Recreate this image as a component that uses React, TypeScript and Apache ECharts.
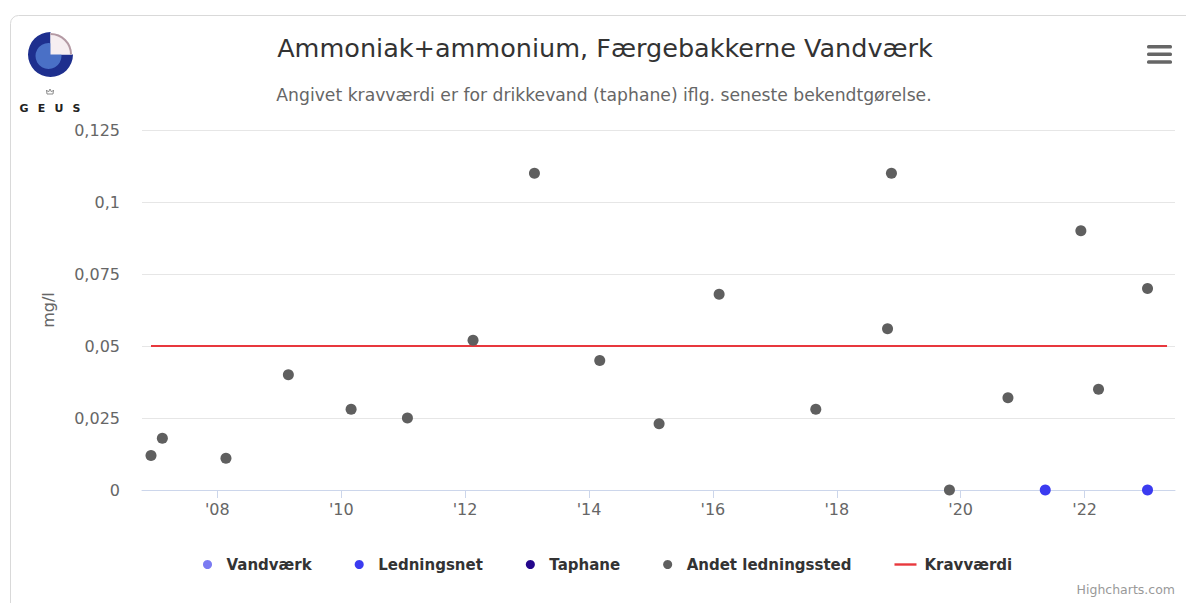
import React, { useEffect, useRef } from "react";
import * as echarts from "echarts";

// ---- Data ----
const ANDET_DATES = [
  "2006-12-06", "2007-02-11", "2008-02-21", "2009-02-23", "2010-02-28",
  "2011-01-26", "2012-02-17", "2013-02-13", "2014-03-05", "2015-02-18",
  "2016-02-07", "2017-08-30", "2018-10-27", "2018-11-19", "2019-10-27",
  "2020-10-06", "2021-12-10", "2022-03-24", "2023-01-07",
];
const ANDET_VALUES = [
  0.012, 0.018, 0.011, 0.04, 0.028,
  0.025, 0.052, 0.11, 0.045, 0.023,
  0.068, 0.028, 0.056, 0.11, 0,
  0.032, 0.09, 0.035, 0.07,
];
const LEDNINGSNET_DATES = ["2021-05-14", "2023-01-07"];
const LEDNINGSNET_VALUES = [0, 0];
const VANDVAERK_DATES: string[] = [];
const VANDVAERK_VALUES: number[] = [];
const TAPHANE_DATES: string[] = [];
const TAPHANE_VALUES: number[] = [];
const KRAV_DATES = ["2006-12-06", "2023-05-02"];
const KRAV_VALUE = 0.05;

const X_MIN = "2006-10-14";
const X_MAX = "2023-06-18";
const X_TICKS = [
  "2008-01-01", "2010-01-01", "2012-01-01", "2014-01-01",
  "2016-01-01", "2018-01-01", "2020-01-01", "2022-01-01",
];
const Y_MIN = 0;
const Y_MAX = 0.125;
const Y_STEP = 0.025;

const SERIES_NAMES = ["Vandværk", "Ledningsnet", "Taphane", "Andet ledningssted", "Kravværdi"];
const COLORS = ["#7b7bf2", "#3b3bf0", "#24078c", "#5f5f5f", "#e8383d"];

const TITLE = "Ammoniak+ammonium, Færgebakkerne Vandværk";
const SUBTITLE = "Angivet kravværdi er for drikkevand (taphane) iflg. seneste bekendtgørelse.";
const Y_NAME = "mg/l";
const CREDITS = "Highcharts.com";

const FONT = "'DejaVu Sans', Verdana, sans-serif";

function toTime(s: string): number {
  const [y, m, d] = s.split("-").map(Number);
  return Date.UTC(y, m - 1, d);
}
function pairs(dates: string[], values: number[]) {
  return dates.map((d, i) => [toTime(d), values[i]]);
}

export default function App() {
  const ref = useRef<HTMLDivElement>(null);

  useEffect(() => {
    if (!ref.current) return;
    const chart = echarts.init(ref.current, null, { renderer: "svg" });

    const scatter = (name: string, color: string, data: number[][]) => ({
      name,
      type: "scatter",
      data,
      symbol: "circle",
      symbolSize: 11,
      itemStyle: { color, opacity: 1 },
      emphasis: { disabled: true },
      silent: true,
      z: 3,
    });

    const tickValues = X_TICKS.map(toTime);

    const option: any = {
      animation: false,
      backgroundColor: "#ffffff",
      textStyle: { fontFamily: FONT },
      grid: { left: 142, right: 11, top: 130, bottom: 113, containLabel: false },
      xAxis: {
        type: "value",
        min: toTime(X_MIN),
        max: toTime(X_MAX),
        scale: true,
        axisLine: { show: true, lineStyle: { color: "#ccd6eb", width: 1 } },
        axisTick: {
          show: true,
          length: 8,
          lineStyle: { color: "#ccd6eb" },
          customValues: tickValues,
        },
        axisLabel: {
          show: true,
          customValues: tickValues,
          formatter: (v: number) => "'" + String(new Date(v).getUTCFullYear()).slice(2),
          color: "#666666",
          fontSize: 16,
          fontFamily: FONT,
          margin: 11,
          showMinLabel: true,
          showMaxLabel: true,
        },
        splitLine: { show: false },
      },
      yAxis: {
        type: "value",
        min: Y_MIN,
        max: Y_MAX,
        interval: Y_STEP,
        name: Y_NAME,
        nameLocation: "middle",
        nameGap: 86,
        nameTextStyle: { color: "#666666", fontSize: 16, fontFamily: FONT },
        axisLine: { show: false },
        axisTick: { show: false },
        axisLabel: {
          color: "#666666",
          fontSize: 16,
          fontFamily: FONT,
          margin: 22,
          formatter: (v: number) => (v === 0 ? "0" : String(+v.toFixed(3)).replace(".", ",")),
        },
        splitLine: { show: true, lineStyle: { color: "#e6e6e6", width: 1 } },
      },
      legend: {
        left: 198,
        top: 552,
        itemWidth: 22,
        itemHeight: 9,
        itemGap: 43,
        selectedMode: false,
        textStyle: {
          fontFamily: FONT,
          fontSize: 15,
          fontWeight: "bold",
          color: "#333333",
          padding: [0, 0, 0, 3],
        },
        data: [
          { name: SERIES_NAMES[0], icon: "circle" },
          { name: SERIES_NAMES[1], icon: "circle" },
          { name: SERIES_NAMES[2], icon: "circle" },
          { name: SERIES_NAMES[3], icon: "circle" },
          { name: SERIES_NAMES[4], icon: "path://M0,0L22,0L22,2.4L0,2.4Z" },
        ],
      },
      series: [
        scatter(SERIES_NAMES[0], COLORS[0], pairs(VANDVAERK_DATES, VANDVAERK_VALUES)),
        scatter(SERIES_NAMES[1], COLORS[1], pairs(LEDNINGSNET_DATES, LEDNINGSNET_VALUES)),
        scatter(SERIES_NAMES[2], COLORS[2], pairs(TAPHANE_DATES, TAPHANE_VALUES)),
        scatter(SERIES_NAMES[3], COLORS[3], pairs(ANDET_DATES, ANDET_VALUES)),
        {
          name: SERIES_NAMES[4],
          type: "line",
          data: KRAV_DATES.map((d) => [toTime(d), KRAV_VALUE]),
          symbol: "none",
          showSymbol: false,
          itemStyle: { color: COLORS[4] },
          lineStyle: { color: COLORS[4], width: 2 },
          emphasis: { disabled: true },
          silent: true,
          z: 1,
        },
      ],
      graphic: [
        {
          type: "rect",
          shape: { x: 10.5, y: 15.5, width: 1220, height: 700, r: 8 },
          style: { fill: "none", stroke: "#d9d9d9", lineWidth: 1 },
          silent: true,
          z: -10,
        },
        {
          type: "text",
          x: 605,
          y: 48,
          style: {
            text: TITLE,
            fontFamily: FONT,
            fontSize: 25.5,
            fill: "#333333",
            align: "center",
            verticalAlign: "middle",
          },
        },
        {
          type: "text",
          x: 604,
          y: 95,
          style: {
            text: SUBTITLE,
            fontFamily: FONT,
            fontSize: 17.2,
            fill: "#666666",
            align: "center",
            verticalAlign: "middle",
          },
        },
        {
          type: "text",
          x: 1175,
          y: 589,
          style: {
            text: CREDITS,
            fontFamily: FONT,
            fontSize: 12.5,
            fill: "#999999",
            align: "right",
            verticalAlign: "middle",
          },
        },
        { type: "rect", shape: { x: 1147, y: 45, width: 25, height: 3.5, r: 1.5 }, style: { fill: "#666666" } },
        { type: "rect", shape: { x: 1147, y: 52.5, width: 25, height: 3.5, r: 1.5 }, style: { fill: "#666666" } },
        { type: "rect", shape: { x: 1147, y: 60.3, width: 25, height: 3.5, r: 1.5 }, style: { fill: "#666666" } },
        {
          type: "sector",
          shape: { cx: 50.5, cy: 54.5, r: 22.5, r0: 0, startAngle: 0, endAngle: Math.PI * 1.5, clockwise: true },
          style: { fill: "#1e2f8e" },
        },
        {
          type: "circle",
          shape: { cx: 48.5, cy: 56, r: 13 },
          style: { fill: "#4a70c6" },
        },
        {
          type: "sector",
          shape: { cx: 50.5, cy: 54.5, r: 21.5, r0: 0, startAngle: -Math.PI / 2, endAngle: 0, clockwise: true },
          style: { fill: "#f6eef1" },
        },
        {
          type: "arc",
          shape: { cx: 50.5, cy: 54.5, r: 20.5, startAngle: -Math.PI / 2, endAngle: 0, clockwise: true },
          style: { stroke: "#b49aa4", lineWidth: 2, fill: "none" },
        },
        {
          type: "polyline",
          shape: { points: [[47, 94], [46.5, 90], [48.5, 92], [50, 89], [51.5, 92], [53.5, 90], [53, 94], [47, 94]] },
          style: { stroke: "#8a8a8a", lineWidth: 1, fill: "none" },
        },
        ...["G", "E", "U", "S"].map((ch, i) => ({
          type: "text",
          x: 24 + i * 17.5,
          y: 108,
          style: {
            text: ch,
            fontFamily: FONT,
            fontSize: 11,
            fontWeight: "bold",
            fill: "#222222",
            align: "center",
            verticalAlign: "middle",
          },
        })),
      ],
    };

    chart.setOption(option);
    return () => {
      chart.dispose();
    };
  }, []);

  return (
    <div
      ref={ref}
      style={{ position: "absolute", left: 0, top: 0, width: 1186, height: 603 }}
    />
  );
}
